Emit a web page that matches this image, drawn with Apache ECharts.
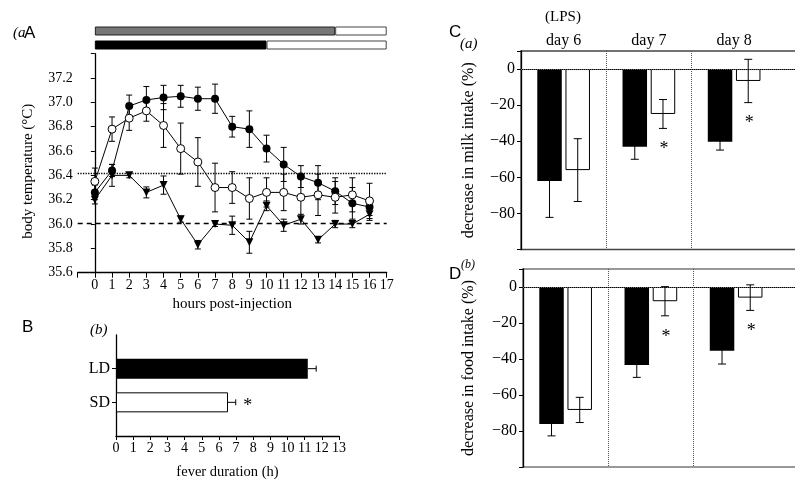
<!DOCTYPE html>
<html>
<head>
<meta charset="utf-8">
<script src="https://cdn.jsdelivr.net/npm/echarts/dist/echarts.min.js"></script>
<style>html,body{margin:0;background:#fff}#main{width:795px;height:481px}</style>
</head>
<body>
<div id="main"></div>
<script>
// panel A: body temperature after injection
const hours = [0, 1, 2, 3, 4, 5, 6, 7, 8, 9, 10, 11, 12, 13, 14, 15, 16];
const tempFilled = [36.26, 36.44, 36.97, 37.02, 37.04, 37.05, 37.03, 37.03, 36.80, 36.78, 36.62, 36.49, 36.39, 36.34, 36.27, 36.17, 36.14];
const tempFilledErr = [0.06, 0.05, 0.09, 0.11, 0.10, 0.09, 0.095, 0.12, 0.085, 0.15, 0.11, 0.14, 0.09, 0.14, 0.11, 0.13, 0.07];
const tempOpen = [36.35, 36.78, 36.87, 36.93, 36.81, 36.62, 36.51, 36.30, 36.30, 36.21, 36.26, 36.26, 36.22, 36.24, 36.22, 36.24, 36.19];
const tempOpenErr = [0.11, 0.10, 0.10, 0.085, 0.18, 0.21, 0.20, 0.20, 0.13, 0.17, 0.12, 0.15, 0.16, 0.17, 0.13, 0.14, 0.145];
const tempTri = [36.20, 36.40, 36.40, 36.26, 36.32, 36.04, 35.83, 36.00, 35.99, 35.85, 36.15, 35.99, 36.04, 35.87, 36.00, 36.00, 36.08];
const tempTriErr = [0.035, 0.09, 0.02, 0.045, 0.075, 0.025, 0.035, 0.02, 0.075, 0.09, 0.04, 0.05, 0.04, 0.025, 0.03, 0.03, 0.05];
const refDotted = 36.42;
const refDashed = 36.01;
// bars above panel A (dark part, then light part up to the end)
const phaseDark = [14, 10];
const phaseEnd = 17;

// panel B: fever duration
const feverGroups = ['LD', 'SD'];
const feverMean = [11.18, 6.53];
const feverErr = [0.49, 0.45];
const feverSig = [false, true];

// panels C and D: intake
const days = ['day 6', 'day 7', 'day 8'];
const milkLD = [-62.0, -43.0, -40.3];
const milkLDErr = [20.2, 7.0, 4.6];
const milkSD = [-56.0, -24.9, -6.6];
const milkSDErr = [17.4, 8.0, 12.0];
const milkSig = [false, true, true];
const foodLD = [-76.1, -43.4, -35.4];
const foodLDErr = [6.6, 6.8, 7.4];
const foodSD = [-68.3, -7.9, -5.9];
const foodSDErr = [7.0, 8.1, 7.1];
const foodSig = [false, true, true];

const serif = "'Liberation Serif', 'DejaVu Serif', serif";
const sans = "'Liberation Sans', Arial, sans-serif";
const black = '#000';

const chart = echarts.init(document.getElementById('main'));

function starText(x, y) {
  return {
    type: 'text', x: x, y: y,
    style: { text: '*', font: '18px ' + serif, fill: black,
      align: 'center', verticalAlign: 'middle', textAlign: 'center', textVerticalAlign: 'middle' }
  };
}

// vertical error bars with caps (panel A)
function vErr(params, api) {
  const x = api.value(0), y = api.value(1), e = api.value(2);
  const a = api.coord([x, y + e]), b = api.coord([x, y - e]);
  const c = 3;
  const st = { stroke: black, lineWidth: 1 };
  return { type: 'group', children: [
    { type: 'line', shape: { x1: a[0], y1: a[1], x2: b[0], y2: b[1] }, style: st },
    { type: 'line', shape: { x1: a[0] - c, y1: a[1], x2: a[0] + c, y2: a[1] }, style: st },
    { type: 'line', shape: { x1: b[0] - c, y1: b[1], x2: b[0] + c, y2: b[1] }, style: st }
  ] };
}

// grouped bar error bars (panels C, D): [cat, value, err, side, sig]
function groupErr(params, api) {
  const ctr = api.coord([api.value(0), api.value(1)]);
  const e = api.value(2), side = api.value(3), sig = api.value(4);
  const x = ctr[0] + side * 14.1;
  const a = api.coord([api.value(0), api.value(1) + e])[1];
  const b = api.coord([api.value(0), api.value(1) - e])[1];
  const c = 4;
  const st = { stroke: black, lineWidth: 1 };
  const kids = [
    { type: 'line', shape: { x1: x, y1: a, x2: x, y2: b }, style: st },
    { type: 'line', shape: { x1: x - c, y1: a, x2: x + c, y2: a }, style: st },
    { type: 'line', shape: { x1: x - c, y1: b, x2: x + c, y2: b }, style: st }
  ];
  if (sig) kids.push(starText(x + 1, b + 21));
  return { type: 'group', children: kids };
}

// horizontal one-sided error (panel B): [value, cat, err, sig]
function hErr(params, api) {
  const v = api.value(0), cat = api.value(1), e = api.value(2), sig = api.value(3);
  const a = api.coord([v, cat]), b = api.coord([v + e, cat]);
  const c = 3;
  const st = { stroke: black, lineWidth: 1 };
  const kids = [
    { type: 'line', shape: { x1: a[0], y1: a[1], x2: b[0], y2: b[1] }, style: st },
    { type: 'line', shape: { x1: b[0], y1: b[1] - c, x2: b[0], y2: b[1] + c }, style: st }
  ];
  if (sig) kids.push(starText(b[0] + 12, b[1] + 4));
  return { type: 'group', children: kids };
}

const axisLine = { show: true, lineStyle: { color: black, width: 1.3 } };
const tickStyle = { show: true, length: 4, lineStyle: { color: black, width: 1 } };
const lbl = (size) => ({ color: black, fontFamily: serif, fontSize: size });

const minus = (v) => (v < 0 ? '\u2212' + (-v) : String(v));

const bCats = ['', feverGroups[1], feverGroups[0], ''];
const dayCats = days.concat(['']);

function intakeSeries(idx, ld, ldErr, sd, sdErr, sig) {
  return [
    { type: 'bar', xAxisIndex: idx, yAxisIndex: idx, data: ld, barWidth: 24.5, barGap: '15%',
      itemStyle: { color: black }, silent: true,
      markLine: { silent: true, symbol: 'none', label: { show: false },
        lineStyle: { type: 'dotted', color: '#666', width: 1 }, data: [{ yAxis: 0 }] } },
    { type: 'bar', xAxisIndex: idx, yAxisIndex: idx, data: sd, barWidth: 24.5, barGap: '15%',
      itemStyle: { color: '#fff', borderColor: black, borderWidth: 1 }, silent: true },
    { type: 'custom', xAxisIndex: idx, yAxisIndex: idx, renderItem: groupErr, silent: true, z: 5,
      data: ld.map((v, i) => [i, v, ldErr[i], -1, 0]).concat(sd.map((v, i) => [i, v, sdErr[i], 1, sig[i] ? 1 : 0])) }
  ];
}

const intakeX = (idx, showLabel) => ({
  type: 'category', gridIndex: idx, data: dayCats, position: 'top',
  axisLine: { show: true, lineStyle: { color: black, width: 1 } },
  axisTick: { show: false },
  axisLabel: Object.assign({ show: showLabel, margin: 2 }, lbl(16)),
  splitLine: { show: true, interval: (i) => i === 1 || i === 2,
    lineStyle: { type: 'dotted', color: '#555', width: 1 } }
});
const intakeY = (idx, name, gap) => ({
  type: 'value', gridIndex: idx, min: -100, max: 10, interval: 20,
  axisLine: { show: true, lineStyle: { color: black, width: 1.3 } },
  axisTick: tickStyle,
  axisLabel: Object.assign({ margin: 6, formatter: (v) => (v > 0 || v <= -100 ? '' : minus(v)) }, lbl(16)),
  splitLine: { show: false },
  name: name, nameLocation: 'middle', nameGap: gap,
  nameTextStyle: lbl(16)
});

const option = {
  animation: false,
  backgroundColor: '#fff',
  grid: [
    { left: 77.7, right: 408.3, top: 24, height: 28, outerBoundsMode: 'none' },
    { left: 77.7, right: 408.3, top: 53.7, height: 219, outerBoundsMode: 'none' },
    { left: 116, width: 223, top: 335, height: 101, outerBoundsMode: 'none' },
    { left: 521, width: 341, top: 51, height: 198.5, outerBoundsMode: 'none',
      show: true, borderColor: '#444', borderWidth: 1.3, backgroundColor: 'transparent' },
    { left: 523, width: 341, top: 269, height: 198, outerBoundsMode: 'none',
      show: true, borderColor: '#777', borderWidth: 1.5, backgroundColor: 'transparent' }
  ],
  xAxis: [
    { type: 'value', gridIndex: 0, min: -1, max: 17, show: false },
    { type: 'value', gridIndex: 1, min: -1, max: 17, interval: 1,
      axisLine: axisLine,
      axisTick: { show: true, length: 5, lineStyle: { color: black } },
      axisLabel: Object.assign({ margin: 6, formatter: (v) => (v < 0 ? '' : v) }, lbl(14)),
      splitLine: { show: false },
      name: 'hours post-injection', nameLocation: 'middle', nameGap: 24, nameTextStyle: lbl(15) },
    { type: 'value', gridIndex: 2, min: 0, max: 13, interval: 1,
      axisLine: axisLine,
      axisTick: { show: true, length: 4, lineStyle: { color: black } },
      axisLabel: Object.assign({ margin: 5 }, lbl(14)),
      splitLine: { show: false },
      name: 'fever duration (h)', nameLocation: 'middle', nameGap: 29, nameTextStyle: lbl(14.5) },
    intakeX(3, true),
    intakeX(4, false)
  ],
  yAxis: [
    { type: 'category', gridIndex: 0, data: ['dark', 'light'], inverse: true, show: false },
    { type: 'value', gridIndex: 1, min: 35.6, max: 37.4, interval: 0.2,
      axisLine: axisLine, axisTick: tickStyle,
      axisLabel: Object.assign({ margin: 5, formatter: (v) => (v > 37.3 ? '' : v.toFixed(1)) }, lbl(14)),
      splitLine: { show: false },
      name: 'body temperature (°C)', nameLocation: 'middle', nameGap: 42,
      nameTextStyle: Object.assign({ padding: [0, 16, 0, 0] }, lbl(15)) },
    { type: 'category', gridIndex: 2, data: bCats, boundaryGap: false,
      axisLine: axisLine,
      axisTick: { show: true, length: 4, interval: (i, v) => v !== '', lineStyle: { color: black } },
      axisLabel: Object.assign({ margin: 6 }, lbl(16)) },
    intakeY(3, 'decrease in milk intake (%)', 44),
    intakeY(4, 'decrease in food intake (%)', 46)
  ],
  series: [
    // phase bars above A
    { type: 'bar', xAxisIndex: 0, yAxisIndex: 0, stack: 'ph', barWidth: 9, silent: true,
      data: [
        { value: phaseDark[0], itemStyle: { color: '#777', borderColor: '#222', borderWidth: 1 } },
        { value: phaseDark[1], itemStyle: { color: black, borderColor: black, borderWidth: 1 } }
      ] },
    { type: 'bar', xAxisIndex: 0, yAxisIndex: 0, stack: 'ph', barWidth: 9, silent: true,
      itemStyle: { color: '#fff', borderColor: '#444', borderWidth: 1 },
      data: phaseDark.map((d) => phaseEnd - d) },
    // panel A
    { type: 'custom', xAxisIndex: 1, yAxisIndex: 1, renderItem: vErr, silent: true, z: 1,
      data: hours.map((h, i) => [h, tempFilled[i], tempFilledErr[i]])
        .concat(hours.map((h, i) => [h, tempOpen[i], tempOpenErr[i]]))
        .concat(hours.map((h, i) => [h, tempTri[i], tempTriErr[i]])) },
    { type: 'line', xAxisIndex: 1, yAxisIndex: 1, z: 3, silent: true,
      data: hours.map((h, i) => [h, tempFilled[i]]),
      symbol: 'circle', symbolSize: 8,
      itemStyle: { color: black }, lineStyle: { color: black, width: 1 },
      markLine: { silent: true, symbol: 'none', label: { show: false },
        data: [
          { yAxis: refDotted, lineStyle: { type: 'dotted', color: black, width: 1.3 } },
          { yAxis: refDashed, lineStyle: { type: [5, 4], color: black, width: 1.3 } }
        ] } },
    { type: 'line', xAxisIndex: 1, yAxisIndex: 1, z: 3, silent: true,
      data: hours.map((h, i) => [h, tempOpen[i]]),
      symbol: 'circle', symbolSize: 8,
      itemStyle: { color: '#fff', borderColor: black, borderWidth: 1 }, lineStyle: { color: black, width: 1 } },
    { type: 'line', xAxisIndex: 1, yAxisIndex: 1, z: 3, silent: true,
      data: hours.map((h, i) => [h, tempTri[i]]),
      symbol: 'triangle', symbolRotate: 180, symbolSize: 8,
      itemStyle: { color: black }, lineStyle: { color: black, width: 1 } },
    // panel B
    { type: 'bar', xAxisIndex: 2, yAxisIndex: 2, barWidth: 20, silent: true,
      data: feverGroups.map((g, i) => ({ value: [feverMean[i], g],
        itemStyle: i === 0 ? { color: black } : { color: '#fff', borderColor: black, borderWidth: 1 } })) },
    { type: 'custom', xAxisIndex: 2, yAxisIndex: 2, renderItem: hErr, silent: true, z: 5,
      data: feverGroups.map((g, i) => [feverMean[i], bCats.indexOf(g), feverErr[i], feverSig[i] ? 1 : 0]) }
  ].concat(intakeSeries(3, milkLD, milkLDErr, milkSD, milkSDErr, milkSig))
   .concat(intakeSeries(4, foodLD, foodLDErr, foodSD, foodSDErr, foodSig)),
  graphic: [
    { type: 'text', x: 13, y: 33, style: { text: '(a', font: 'italic 15px ' + serif, fill: black, verticalAlign: 'middle', textVerticalAlign: 'middle' } },
    { type: 'text', x: 24, y: 33, style: { text: 'A', font: '17px ' + sans, fill: black, verticalAlign: 'middle', textVerticalAlign: 'middle' } },
    { type: 'text', x: 22, y: 327, style: { text: 'B', font: '17px ' + sans, fill: black, verticalAlign: 'middle', textVerticalAlign: 'middle' } },
    { type: 'text', x: 90, y: 330, style: { text: '(b)', font: 'italic 15px ' + serif, fill: black, verticalAlign: 'middle', textVerticalAlign: 'middle' } },
    { type: 'text', x: 563, y: 17, style: { text: '(LPS)', font: '15px ' + serif, fill: black, align: 'center', textAlign: 'center', verticalAlign: 'middle', textVerticalAlign: 'middle' } },
    { type: 'text', x: 449, y: 32, style: { text: 'C', font: '17px ' + sans, fill: black, verticalAlign: 'middle', textVerticalAlign: 'middle' } },
    { type: 'text', x: 460, y: 44, style: { text: '(a)', font: 'italic 15px ' + serif, fill: black, verticalAlign: 'middle', textVerticalAlign: 'middle' } },
    { type: 'text', x: 449, y: 274, style: { text: 'D', font: '17px ' + sans, fill: black, verticalAlign: 'middle', textVerticalAlign: 'middle' } },
    { type: 'text', x: 461, y: 265, style: { text: '(b)', font: 'italic 12px ' + serif, fill: black, verticalAlign: 'middle', textVerticalAlign: 'middle' } }
  ]
};

chart.setOption(option);
</script>
</body>
</html>
